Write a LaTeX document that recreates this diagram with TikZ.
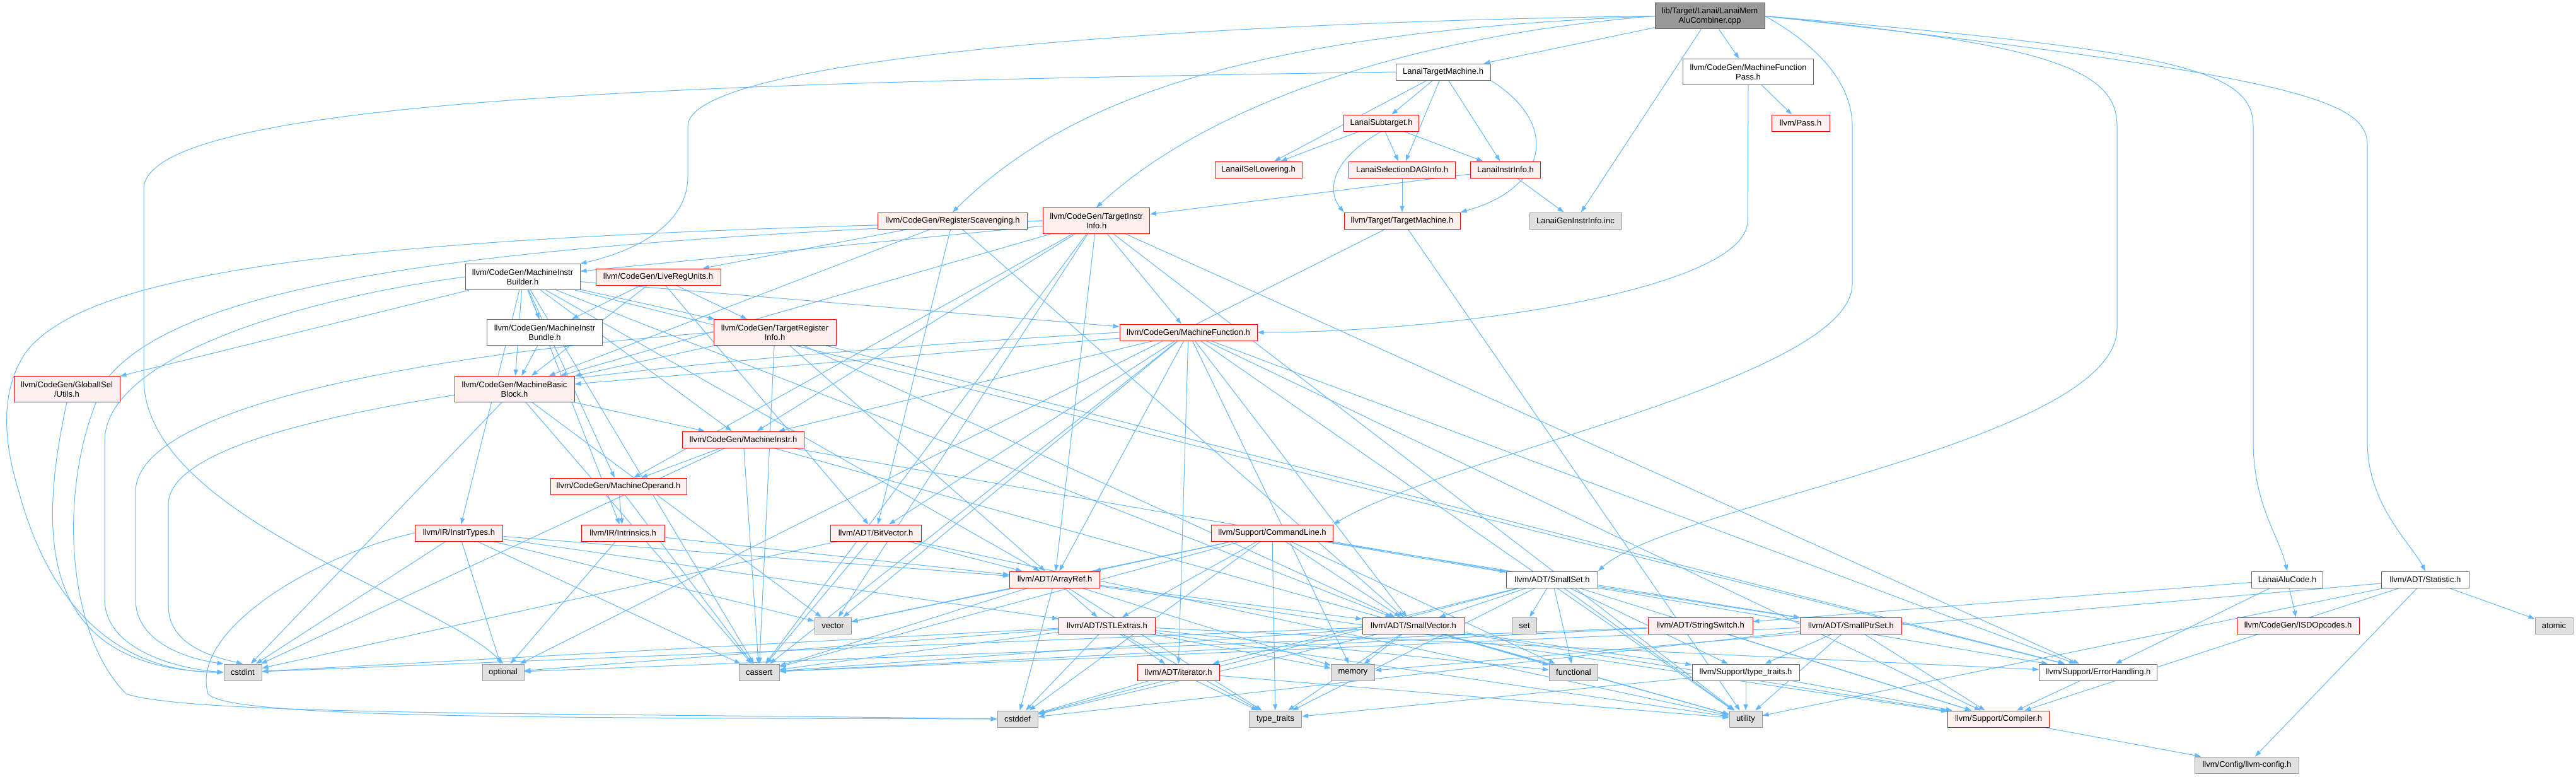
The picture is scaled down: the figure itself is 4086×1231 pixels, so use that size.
\documentclass[tikz,border=0pt]{standalone}
\usepackage{fontspec}
\setmainfont{Liberation Sans}
\usetikzlibrary{arrows.meta}
\definecolor{eblue}{HTML}{63B8FF}
\definecolor{rfill}{HTML}{FFF0F0}
\definecolor{rdraw}{HTML}{FF0000}
\definecolor{wdraw}{HTML}{666666}
\definecolor{gfill}{HTML}{E0E0E0}
\definecolor{gdraw}{HTML}{999999}
\definecolor{mfill}{HTML}{999999}
\pgfdeclarelayer{bg}
\pgfsetlayers{bg,main}
\tikzset{
  box/.style={draw, inner xsep=2pt, inner ysep=0pt, minimum height=26pt,
    font=\fontsize{13}{15}\selectfont, align=center, line width=1pt},
  tall/.style={minimum height=41pt},
  redbox/.style={box, fill=rfill, draw=rdraw},
  whitebox/.style={box, fill=white, draw=wdraw},
  graybox/.style={box, fill=gfill, draw=gdraw},
  mainbox/.style={box, fill=mfill, draw=wdraw},
  dep/.style={draw=eblue, line width=1pt, -{Triangle[length=10pt,width=7pt]}}
}
\begin{document}
\begin{tikzpicture}[x=1pt,y=-1pt]
\begin{pgfonlayer}{bg}
\fill[white] (0,0) rectangle (4086,1231);
\end{pgfonlayer}
\useasboundingbox (0,0) rectangle (4086,1231);
% rank 0-4
\node[mainbox,tall,minimum width=174pt] (main) at (2712,25.5) {lib/Target/Lanai/LanaiMem\\AluCombiner.cpp};
\node[whitebox,minimum width=150pt] (ltm) at (2289,114) {LanaiTargetMachine.h};
\node[whitebox,tall,minimum width=207pt] (mfp) at (2773,114) {llvm/CodeGen/MachineFunction\\Pass.h};
\node[redbox,minimum width=92pt] (pass) at (2856,195) {llvm/Pass.h};
\node[redbox,minimum width=119pt] (lst) at (2191,195) {LanaiSubtarget.h};
\node[redbox,minimum width=138pt] (lisl) at (1996,269) {LanaiISelLowering.h};
\node[redbox,minimum width=169pt] (lsdag) at (2224,269) {LanaiSelectionDAGInfo.h};
\node[redbox,minimum width=111pt] (lii) at (2388,269) {LanaiInstrInfo.h};
\node[redbox,minimum width=237pt] (rs) at (1511,350) {llvm/CodeGen/RegisterScavenging.h};
\node[redbox,tall,minimum width=169pt] (tii) at (1739,350) {llvm/CodeGen/TargetInstr\\Info.h};
\node[redbox,minimum width=184pt] (tm) at (2224,350) {llvm/Target/TargetMachine.h};
\node[graybox,minimum width=146pt] (gen) at (2499,350) {LanaiGenInstrInfo.inc};
% rank 5-9
\node[whitebox,tall,minimum width=182pt] (mib) at (829,439) {llvm/CodeGen/MachineInstr\\Builder.h};
\node[redbox,minimum width=198pt] (lru) at (1044,439) {llvm/CodeGen/LiveRegUnits.h};
\node[redbox,minimum width=218pt] (mf) at (1885,527) {llvm/CodeGen/MachineFunction.h};
\node[whitebox,tall,minimum width=183pt] (mibun) at (864,527) {llvm/CodeGen/MachineInstr\\Bundle.h};
\node[redbox,tall,minimum width=194pt] (tri) at (1229,527) {llvm/CodeGen/TargetRegister\\Info.h};
\node[redbox,tall,minimum width=168pt] (giu) at (106,617) {llvm/CodeGen/GlobalISel\\/Utils.h};
\node[redbox,tall,minimum width=190pt] (mbb) at (816,617) {llvm/CodeGen/MachineBasic\\Block.h};
\node[redbox,minimum width=193pt] (mi) at (1179,697) {llvm/CodeGen/MachineInstr.h};
\node[redbox,minimum width=216pt] (mo) at (981,771) {llvm/CodeGen/MachineOperand.h};
% rank 10-11
\node[redbox,minimum width=139pt] (it) at (728,845) {llvm/IR/InstrTypes.h};
\node[redbox,minimum width=132pt] (intr) at (988,845) {llvm/IR/Intrinsics.h};
\node[redbox,minimum width=144pt] (bv) at (1389,845) {llvm/ADT/BitVector.h};
\node[redbox,minimum width=193pt] (cl) at (2018,845) {llvm/Support/CommandLine.h};
\node[redbox,minimum width=143pt] (ar) at (1673,919) {llvm/ADT/ArrayRef.h};
\node[whitebox,minimum width=145pt] (ss) at (2462,919) {llvm/ADT/SmallSet.h};
\node[whitebox,minimum width=113pt] (lac) at (3628,919) {LanaiAluCode.h};
\node[whitebox,minimum width=139pt] (stat) at (3847,919) {llvm/ADT/Statistic.h};
% rank 12
\node[graybox,minimum width=58pt] (vector) at (1321,992) {vector};
\node[redbox,minimum width=153pt] (stl) at (1756,992) {llvm/ADT/STLExtras.h};
\node[redbox,minimum width=162pt] (sv) at (2242,992) {llvm/ADT/SmallVector.h};
\node[graybox,minimum width=39pt] (set) at (2418,992) {set};
\node[redbox,minimum width=166pt] (ssw) at (2697,992) {llvm/ADT/StringSwitch.h};
\node[redbox,minimum width=161pt] (sps) at (2936,992) {llvm/ADT/SmallPtrSet.h};
\node[redbox,minimum width=194pt] (isd) at (3645,992) {llvm/CodeGen/ISDOpcodes.h};
\node[graybox,minimum width=60pt] (atomic) at (4051,992) {atomic};
% rank 13
\node[graybox,minimum width=60pt] (cstdint) at (385,1066) {cstdint};
\node[graybox,minimum width=66pt] (optional) at (798,1066) {optional};
\node[graybox,minimum width=64pt] (cassert) at (1204,1066) {cassert};
\node[redbox,minimum width=130pt] (iter) at (1869,1066) {llvm/ADT/iterator.h};
\node[graybox,minimum width=69pt] (memory) at (2146,1066) {memory};
\node[graybox,minimum width=77pt] (functional) at (2496,1066) {functional};
\node[whitebox,minimum width=170pt] (stt) at (2769,1066) {llvm/Support/type\_traits.h};
\node[whitebox,minimum width=187pt] (eh) at (3328,1066) {llvm/Support/ErrorHandling.h};
% rank 14-15
\node[graybox,minimum width=64pt] (cstddef) at (1614,1140) {cstddef};
\node[graybox,minimum width=83pt] (typetraits) at (2023,1140) {type\_traits};
\node[graybox,minimum width=52pt] (utility) at (2769,1140) {utility};
\node[redbox,minimum width=161pt] (comp) at (3170,1140) {llvm/Support/Compiler.h};
\node[graybox,minimum width=165pt] (cfg) at (3564,1213) {llvm/Config/llvm-config.h};

\begin{pgfonlayer}{bg}
% routed edges
\draw[dep] (main.west) .. controls (1900,35) and (1091,90) .. (1091,200) -- (1091,280) .. controls (1091,360) and (1000,400) .. (mib.north east);
\draw[dep] (ltm.west) .. controls (1200,130) and (228,150) .. (228,300) -- (228,600) .. controls (228,820) and (700,950) .. (optional.north);
\draw[dep] (main.west) .. controls (2000,50) and (1700,150) .. (rs.north);
\draw[dep] (main.west) .. controls (2200,60) and (1900,180) .. (tii.north);
\draw[dep] (main.east) .. controls (3250,70) and (3358,110) .. (3358,200) -- (3358,520) .. controls (3358,700) and (2650,800) .. (ss.north east);
\draw[dep] (main.east) .. controls (2880,70) and (2938,130) .. (2938,200) -- (2938,450) .. controls (2938,600) and (2300,720) .. (cl.north east);
\draw[dep] (main.east) .. controls (3450,80) and (3574,110) .. (3574,200) -- (3574,700) .. controls (3574,800) and (3615,850) .. (lac.north);
\draw[dep] (main.east) .. controls (3650,120) and (3755,160) .. (3755,230) -- (3755,700) .. controls (3755,800) and (3823,860) .. (stat.north);
\draw[dep] (mfp.south) -- (2772,350) .. controls (2772,460) and (2300,527) .. (mf.east);
\draw[dep] (ltm.south east) .. controls (2480,200) and (2450,300) .. (tm.north east);
\draw[dep] (lst.south) .. controls (2100,260) and (2110,310) .. (tm.north west);
% far-left routes into cstdint / cstddef
\draw[dep] (tii.west) .. controls (700,372) and (150,410) .. (40,560) .. controls (0,620) and (5,700) .. (30,780) .. controls (90,1000) and (220,1066) .. (cstdint.west);
\draw[dep] (tii.west) .. controls (800,385) and (300,440) .. (170,600) .. controls (90,750) and (100,1000) .. (200,1100) .. controls (300,1135) and (900,1130) .. (cstddef.west);
\draw[dep] (it.west) .. controls (500,880) and (300,1000) .. (330,1100) .. controls (360,1140) and (900,1138) .. (cstddef.west);
\draw[dep] (mib.west) .. controls (500,470) and (166,560) .. (166,700) -- (166,950) .. controls (166,1030) and (280,1060) .. (cstdint.west);
\draw[dep] (tri.west) .. controls (700,560) and (215,640) .. (215,780) -- (215,950) .. controls (215,1020) and (300,1045) .. (cstdint.north west);
\draw[dep] (mf.west) .. controls (900,580) and (267,660) .. (267,800) -- (267,960) .. controls (267,1020) and (330,1040) .. (cstdint.north);
\draw[dep] (giu.south) .. controls (60,850) and (60,1060) .. (cstdint.west);
% straight edges
\foreach \a/\b in {main/ltm, main/mfp, main/gen,
  ltm/lst, ltm/lisl, ltm/lsdag, ltm/lii,
  mfp/pass,
  lst/lisl, lst/lsdag, lst/lii,
  lsdag/tm, lii/gen, lii/tii,
  rs/bv, rs/sv, rs/lru, rs/mbb,
  tii/ar, tii/mbb, tii/mf, tii/mi, tii/mib, tii/mo, tii/eh, tii/cassert, tii/utility, tii/vector,
  tm/optional, tm/utility,
  mf/ar, mf/bv, mf/sv, mf/iter, mf/mbb, mf/mi, mf/comp, mf/eh, mf/cassert, mf/memory, mf/utility, mf/vector,
  mib/ar, mib/sv, mib/giu, mib/mbb, mib/mf, mib/mi, mib/mibun, mib/mo, mib/tri, mib/it, mib/intr, mib/eh, mib/cassert,
  lru/mibun, lru/tri, lru/mbb, lru/bv,
  mibun/mbb,
  tri/ar, tri/sv, tri/mbb, tri/eh, tri/cassert,
  mbb/mi, mbb/cassert, mbb/cstdint, mbb/vector,
  mi/mo, mi/ss, mi/cassert, mi/cstdint, mi/utility,
  mo/intr, mo/cassert,
  it/ar, it/stl, it/cassert, it/cstdint, it/optional, it/vector,
  intr/ar, intr/optional,
  bv/ar, bv/cassert, bv/cstdint, bv/utility,
  cl/ar, cl/stl, cl/sps, cl/sv, cl/eh, cl/cassert, cl/cstddef, cl/functional, cl/typetraits, cl/vector,
  ar/sv, ar/stl, ar/comp, ar/cassert, ar/cstddef, ar/memory, ar/typetraits, ar/vector,
  ss/sps, ss/sv, ss/iter, ss/comp, ss/stt, ss/cstddef, ss/functional, ss/set, ss/typetraits, ss/utility,
  lac/ssw, lac/isd, lac/eh,
  stat/atomic, stat/cfg, stat/comp, stat/memory, stat/utility,
  stl/iter, stl/eh, stl/cassert, stl/cstddef, stl/cstdint, stl/functional, stl/memory, stl/optional, stl/typetraits, stl/utility,
  sv/comp, sv/stt, sv/cassert, sv/cstddef, sv/cstdint, sv/functional, sv/memory, sv/typetraits, sv/utility,
  ssw/comp, ssw/cassert, ssw/optional,
  sps/comp, sps/stt, sps/cassert, sps/cstddef, sps/utility,
  iter/cstddef, iter/typetraits, iter/utility,
  stt/typetraits, stt/utility, stt/comp,
  eh/comp, comp/cfg}
  {\draw[dep] (\a) -- (\b);}
\end{pgfonlayer}
\end{tikzpicture}
\end{document}
